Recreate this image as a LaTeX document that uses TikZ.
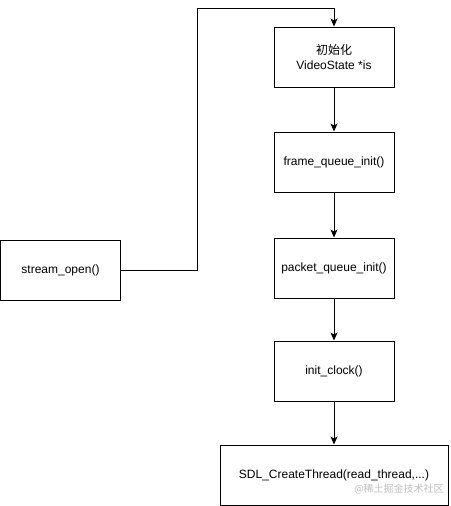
\documentclass[tikz,border=0pt]{standalone}
\usepackage{fontspec}
\setmainfont{Liberation Sans}
\newfontfamily\cjk{Noto Sans CJK SC}
\usetikzlibrary{arrows.meta}

\begin{document}
\begin{tikzpicture}[x=1pt, y=-1pt, line width=1pt, >={Stealth[length=8pt, width=7pt, inset=2pt]},
    box/.style={draw, fill=white, minimum width=120pt, minimum height=60pt, inner sep=0pt, align=center, font=\fontsize{12}{15}\selectfont}]
            \useasboundingbox (0,0) rectangle (450,506);
            \node[box] (init) at (334,57) {{\cjk 初始化}\\VideoState *is};
            \node[box] (frame) at (334,162) {frame\_queue\_init()};
            \node[box] (packet) at (334,268) {packet\_queue\_init()};
            \node[box] (clock) at (334,371) {init\_clock()};
            \node[box, minimum width=228pt] (thread) at (334,475) {SDL\_CreateThread(read\_thread,...)};
            \node[box] (open) at (60.5,270) {stream\_open()};
            \coordinate (bend) at (197,8);
            \draw[->] (open.east) -| (bend) -| (init.north);
            \draw[->] (init) -- (frame);
            \draw[->] (frame) -- (packet);
            \draw[->] (packet) -- (clock);
            \draw[->] (clock) -- (thread);
            \node[text=black!25, font=\cjk\fontsize{10}{12}\selectfont] (mark) at (399,489) {@稀土掘金技术社区};
        \end{tikzpicture}
\end{document}
